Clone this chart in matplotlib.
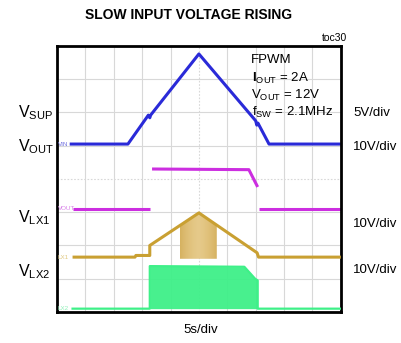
import matplotlib
matplotlib.use("Agg")
import matplotlib.pyplot as plt
from matplotlib.patches import Polygon
import numpy as np

plt.rcParams['font.family'] = ['Liberation Sans', 'DejaVu Sans']
plt.rcParams['mathtext.fontset'] = 'custom'
plt.rcParams['mathtext.rm'] = 'Liberation Sans'
plt.rcParams['mathtext.bf'] = 'Liberation Sans:bold'

# Scope traces, in divisions (x: 0..10, y: 0..8)
vin_t = [0.45, 2.5, 3.22, 3.27, 3.30, 5.0, 7.0, 7.04, 7.08, 7.47, 10.0]
vin_v = [5.05, 5.05, 5.92, 5.84, 5.92, 7.76, 5.75, 5.62, 5.68, 5.05, 5.05]

vout_lo1_t = [0.55, 3.27]
vout_lo1_v = [3.1, 3.1]
vout_hi_t = [3.35, 6.76, 7.07]
vout_hi_v = [4.3, 4.28, 3.76]
vout_lo2_t = [7.1, 10.0]
vout_lo2_v = [3.1, 3.1]

lx1_t = [0.55, 2.75, 2.78, 3.27, 3.27, 5.0, 7.05, 7.1, 10.0]
lx1_v = [1.65, 1.65, 1.7, 1.7, 2.0, 2.98, 1.78, 1.65, 1.65]
lx1_burst_t = [4.33, 5.0, 5.63]
lx1_burst_top = [2.6, 2.98, 2.6]
lx1_burst_bot = 1.6

lx2_t = [0.55, 3.27, 3.27, 6.6, 6.98, 7.07, 7.07, 10.0]
lx2_v = [0.1, 0.1, 1.38, 1.36, 1.0, 0.95, 0.1, 0.1]

fig = plt.figure(figsize=(4.01, 3.43), dpi=100)
ax = fig.add_axes([0.142, 0.0904, 0.708, 0.7756])
ax.set_xlim(0, 10)
ax.set_ylim(0, 8)

# graticule
for x in range(1, 10):
    ax.axvline(x, color='#d8d8d8', lw=0.8, ls=(0, (1.5, 1.5)) if x == 5 else '-', zorder=0)
for y in range(1, 8):
    ax.axhline(y, color='#d8d8d8', lw=0.8, ls=(0, (1.5, 1.5)) if y == 4 else '-', zorder=0)
ax.set_xticks([])
ax.set_yticks([])
for s in ax.spines.values():
    s.set_linewidth(2)
    s.set_color('black')

blue = '#2a2ad8'
mag = '#cc2ee0'
gold = '#c9a032'
green = '#3ef088'

ax.plot(vin_t, vin_v, color=blue, lw=2.2, solid_capstyle='butt')
ax.plot(vout_lo1_t, vout_lo1_v, color=mag, lw=2.2, solid_capstyle='butt')
ax.plot(vout_hi_t, vout_hi_v, color=mag, lw=2.2, solid_capstyle='butt')
ax.plot(vout_lo2_t, vout_lo2_v, color=mag, lw=2.2, solid_capstyle='butt')

# switching burst on LX1, shaded slightly darker toward its edges
burst_poly = list(zip(lx1_burst_t, lx1_burst_top)) + [(lx1_burst_t[-1], lx1_burst_bot), (lx1_burst_t[0], lx1_burst_bot)]
clip = Polygon(burst_poly, closed=True, facecolor='none', edgecolor='none')
ax.add_patch(clip)
xs = np.linspace(-1, 1, 64)
shade = np.abs(xs) ** 1.5
c_mid = np.array([0.90, 0.79, 0.54])
c_edge = np.array([0.84, 0.70, 0.38])
img = c_mid[None, :] * (1 - shade[:, None]) + c_edge[None, :] * shade[:, None]
im = ax.imshow(img[None, :, :], extent=[lx1_burst_t[0], lx1_burst_t[-1], lx1_burst_bot, max(lx1_burst_top)],
               aspect='auto', zorder=2, interpolation='bilinear')
im.set_clip_path(clip)
ax.plot(lx1_t, lx1_v, color=gold, lw=2.2, solid_capstyle='butt', zorder=3)

ax.fill_between(lx2_t, 0.1, lx2_v, color=green, lw=0, alpha=0.95, zorder=2)
ax.plot(lx2_t, lx2_v, color=green, lw=1.6, zorder=3)

# channel tags inside the graticule
ax.text(0.03, 5.05, 'VIN', color='#7070e0', fontsize=4.5, va='center', ha='left')
ax.text(0.03, 3.1, 'VOUT', color='#d880e8', fontsize=4.5, va='center', ha='left')
ax.text(0.03, 1.65, 'LX1', color='#e0c880', fontsize=4.5, va='center', ha='left')
ax.text(0.03, 0.1, 'LX2', color='#90f0b8', fontsize=4.5, va='center', ha='left')

# conditions
cx = 251 / 401
fig.text(cx, 1 - 60 / 343, 'FPWM', fontsize=9.5, va='center', ha='left')
fig.text(cx + 0.003, 1 - 78 / 343, r'$\mathbf{I}_{\mathregular{OUT}}$ = 2A', fontsize=9.5, va='center', ha='left')
fig.text(cx, 1 - 95 / 343, r'$\mathregular{V_{OUT}}$ = 12V', fontsize=9.5, va='center', ha='left')
fig.text(cx + 0.003, 1 - 112 / 343, r'$\mathregular{f_{SW}}$ = 2.1MHz', fontsize=9.5, va='center', ha='left')

fig.text(189 / 401, 1 - 15 / 343, 'SLOW INPUT VOLTAGE RISING', fontsize=10,
         fontweight='bold', ha='center', va='center')
fig.text(347 / 401, 1 - 38 / 343, 'toc30', fontsize=7.5, ha='right', va='center')

left_labels = [(r'$\mathregular{V_{SUP}}$', 113), (r'$\mathregular{V_{OUT}}$', 147),
               (r'$\mathregular{V_{LX1}}$', 218), (r'$\mathregular{V_{LX2}}$', 272)]
for txt, py in left_labels:
    fig.text(18 / 401, 1 - py / 343, txt, fontsize=11.5, ha='left', va='center')

right_labels = [('5V/div', 113), ('10V/div', 147), ('10V/div', 224), ('10V/div', 270)]
for txt, py in right_labels:
    fig.text(353 / 401, 1 - py / 343, txt, fontsize=9.5, ha='left', va='center')

fig.text(0.5, 1 - 330 / 343, '5s/div', fontsize=9.5, ha='center', va='center')

fig.savefig('out.png', dpi=100)
